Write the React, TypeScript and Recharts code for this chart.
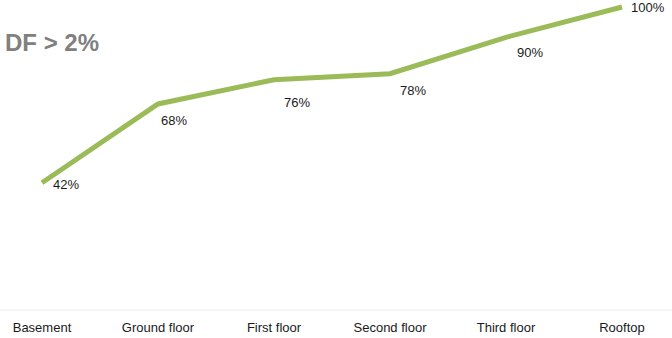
import { LineChart, Line, XAxis, YAxis, LabelList } from "recharts";

const floors = [
  "Basement",
  "Ground floor",
  "First floor",
  "Second floor",
  "Third floor",
  "Rooftop",
];
const dfShare = [42, 68, 76, 78, 90, 100];

const data = floors.map((floor, i) => ({ floor, value: dfShare[i] }));

const FONT = "'Liberation Sans', Arial, sans-serif";

// label nudges (px) per point, as placed in the original
const labelDx = [11, 3, 10, 10, 11, 9];
const labelDy = [2, 17, 23, 17, 15, 0];

function PointLabel(props: any) {
  const { x, y, value, index } = props;
  return (
    <text
      x={x + labelDx[index]}
      y={y + labelDy[index]}
      dominantBaseline="central"
      textAnchor="start"
      fontSize={13}
      fontFamily={FONT}
      fill="#1a1a1a"
    >
      {`${value}%`}
    </text>
  );
}

export default function App() {
  return (
    <div
      style={{
        position: "absolute",
        left: 0,
        top: 0,
        width: 672,
        height: 338,
        background: "#fff",
        fontFamily: FONT,
      }}
    >
      <LineChart
        width={672}
        height={338}
        data={data}
        margin={{ top: 7, right: 0, bottom: 0, left: 0 }}
      >
        <XAxis
          dataKey="floor"
          padding={{ left: 42, right: 50 }}
          height={28}
          tickLine={false}
          tickMargin={7}
          axisLine={{ stroke: "#ececec" }}
          tick={{ fontSize: 13, fill: "#1a1a1a", fontFamily: FONT }}
          interval={0}
        />
        <YAxis hide domain={[0, 100]} />
        <Line
          type="linear"
          dataKey="value"
          stroke="#9bbb59"
          strokeWidth={5}
          dot={false}
          activeDot={false}
          isAnimationActive={false}
        >
          <LabelList dataKey="value" content={<PointLabel />} />
        </Line>
      </LineChart>
      <div
        style={{
          position: "absolute",
          left: 5,
          top: 29,
          fontSize: 24,
          fontWeight: "bold",
          color: "#808080",
          lineHeight: "28px",
        }}
      >
        DF &gt; 2%
      </div>
    </div>
  );
}
